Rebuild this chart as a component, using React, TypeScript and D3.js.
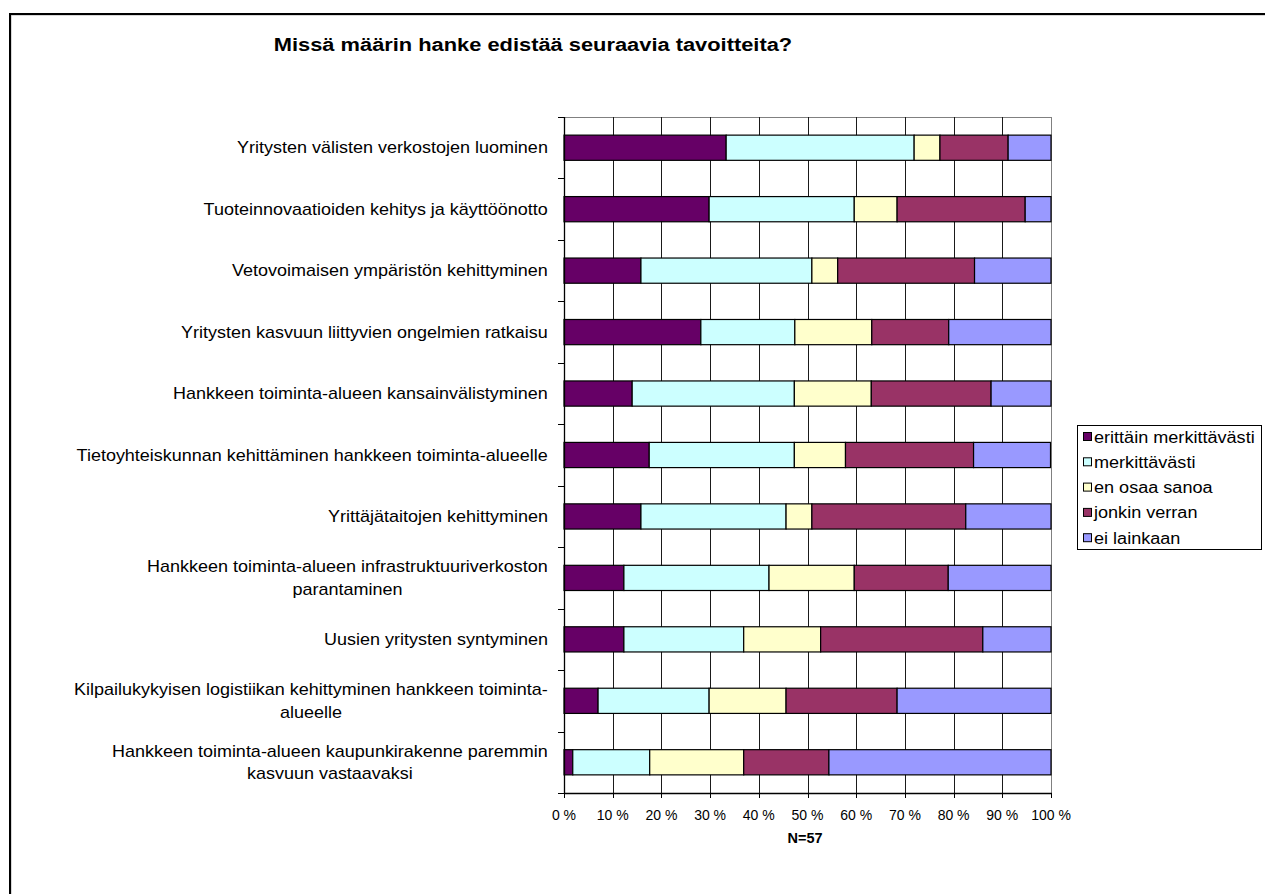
import React, { useRef, useEffect } from 'react';
import * as d3 from 'd3';

const title = 'Missä määrin hanke edistää seuraavia tavoitteita?';
const footnote = 'N=57';

const categories = [
  'Yritysten välisten verkostojen luominen',
  'Tuoteinnovaatioiden kehitys ja käyttöönotto',
  'Vetovoimaisen ympäristön kehittyminen',
  'Yritysten kasvuun liittyvien ongelmien ratkaisu',
  'Hankkeen toiminta-alueen kansainvälistyminen',
  'Tietoyhteiskunnan kehittäminen hankkeen toiminta-alueelle',
  'Yrittäjätaitojen kehittyminen',
  'Hankkeen toiminta-alueen infrastruktuuriverkoston\nparantaminen',
  'Uusien yritysten syntyminen',
  'Kilpailukykyisen logistiikan kehittyminen hankkeen toiminta-\nalueelle',
  'Hankkeen toiminta-alueen kaupunkirakenne paremmin\nkasvuun vastaavaksi',
];

const seriesNames = ['erittäin merkittävästi', 'merkittävästi', 'en osaa sanoa', 'jonkin verran', 'ei lainkaan'];

const erittainMerkittavasti = [33.3, 29.8, 15.8, 28.1, 14.0, 17.5, 15.8, 12.3, 12.3, 7.0, 1.8];
const merkittavasti = [38.6, 29.8, 35.1, 19.3, 33.3, 29.8, 29.8, 29.8, 24.6, 22.8, 15.8];
const enOsaaSanoa = [5.3, 8.8, 5.3, 15.8, 15.8, 10.5, 5.3, 17.5, 15.8, 15.8, 19.3];
const jonkinVerran = [14.0, 26.3, 28.1, 15.8, 24.6, 26.3, 31.6, 19.3, 33.3, 22.8, 17.5];
const eiLainkaan = [8.8, 5.3, 15.8, 21.1, 12.3, 15.8, 17.5, 21.1, 14.0, 31.6, 45.6];

const xTicks = [0, 10, 20, 30, 40, 50, 60, 70, 80, 90, 100];
const colors = ['#660066', '#CCFFFF', '#FFFFCC', '#993366', '#9999FF'];

const FONT = '"Liberation Sans", Arial, sans-serif';
const SX = 1.125; // horizontal stretch of the reference's text rendering

export default function App() {
  const ref = useRef<SVGSVGElement>(null);

  useEffect(() => {
    const svg = d3.select(ref.current);
    svg.selectAll('*').remove();

    const seriesValues = [erittainMerkittavasti, merkittavasti, enOsaaSanoa, jonkinVerran, eiLainkaan];
    const table = categories.map((c, i) => {
      const row: any = { cat: c };
      seriesNames.forEach((s, j) => (row[s] = seriesValues[j][i]));
      return row;
    });
    const stacked = d3.stack<any>().keys(seriesNames)(table);

    const x = d3.scaleLinear().domain([0, 100]).range([564, 1051]);
    const y = d3.scaleBand<string>().domain(categories).range([117, 793]).paddingInner(0.59).paddingOuter(0.295);
    const step = y.step();

    // outer frame
    svg.append('rect').attr('x', 0).attr('y', 0).attr('width', 1265).attr('height', 894).attr('fill', '#fff');
    svg.append('rect').attr('x', 11).attr('y', 15).attr('width', 1400).attr('height', 1000)
      .attr('fill', 'none').attr('stroke', '#b0b0b0').attr('stroke-width', 1);
    svg.append('rect').attr('x', 10).attr('y', 14).attr('width', 1400).attr('height', 1000)
      .attr('fill', 'none').attr('stroke', '#000').attr('stroke-width', 2);

    // title
    svg.append('text').attr('transform', `translate(533,51) scale(1.15,1)`).attr('text-anchor', 'middle')
      .attr('font-family', FONT).attr('font-weight', 'bold').attr('font-size', 19).text(title);

    // plot area border (gray top & right)
    svg.append('line').attr('x1', x(0)).attr('x2', x(100)).attr('y1', 117.5).attr('y2', 117.5)
      .attr('stroke', '#808080').attr('stroke-width', 1);
    svg.append('line').attr('x1', x(100) + 0.5).attr('x2', x(100) + 0.5).attr('y1', 117).attr('y2', 793)
      .attr('stroke', '#808080').attr('stroke-width', 1);

    // vertical gridlines
    svg.append('g').selectAll('line').data(xTicks.filter(t => t > 0 && t < 100)).join('line')
      .attr('x1', d => Math.round(x(d)) + 0.5).attr('x2', d => Math.round(x(d)) + 0.5)
      .attr('y1', 117).attr('y2', 793).attr('stroke', '#1a1a1a').attr('stroke-width', 1);

    // bars
    svg.append('g').selectAll('g').data(stacked).join('g')
      .attr('fill', (_, i) => colors[i])
      .selectAll('rect').data(d => d.map(v => ({ v, cat: (v.data as any).cat }))).join('rect')
      .attr('x', d => x(d.v[0]))
      .attr('width', d => Math.max(0, x(Math.min(100, d.v[1])) - x(d.v[0])))
      .attr('y', d => y(d.cat)!)
      .attr('height', y.bandwidth())
      .attr('stroke', '#000').attr('stroke-width', 1.2);

    // left axis
    svg.append('line').attr('x1', 564.5).attr('x2', 564.5).attr('y1', 117).attr('y2', 794)
      .attr('stroke', '#000').attr('stroke-width', 1.3);
    const bounds = d3.range(categories.length + 1).map(i => 117 + i * step);
    svg.append('g').selectAll('line').data(bounds).join('line')
      .attr('x1', 558).attr('x2', 564).attr('y1', d => Math.round(d) + 0.5).attr('y2', d => Math.round(d) + 0.5)
      .attr('stroke', '#000');

    // bottom axis
    svg.append('line').attr('x1', 564).attr('x2', x(100) + 1).attr('y1', 793.5).attr('y2', 793.5)
      .attr('stroke', '#000').attr('stroke-width', 1.3);
    const bx = svg.append('g');
    bx.selectAll('line').data(xTicks).join('line')
      .attr('x1', d => Math.round(x(d)) + 0.5).attr('x2', d => Math.round(x(d)) + 0.5)
      .attr('y1', 793).attr('y2', 798).attr('stroke', '#000');
    bx.selectAll('text').data(xTicks).join('text')
      .attr('x', d => x(d)).attr('y', 820).attr('text-anchor', 'middle')
      .attr('font-family', FONT).attr('font-size', 14).text(d => `${d} %`);

    // category labels
    const lg = svg.append('g').attr('font-family', FONT).attr('font-size', 16);
    categories.forEach(c => {
      const lines = c.split('\n');
      const cy = y(c)! + y.bandwidth() / 2;
      const t = lg.append('text').attr('text-anchor', 'middle');
      const spans = lines.map((ln, i) =>
        t.append('tspan').attr('x', 0).attr('y', 5.5 + (i - (lines.length - 1) / 2) * 22.5).text(ln)
      );
      let maxW = 0;
      spans.forEach(s => {
        const w = (s.node() as SVGTSpanElement).getComputedTextLength();
        if (w > maxW) maxW = w;
      });
      t.attr('transform', `translate(${548 - (maxW * SX) / 2},${cy}) scale(${SX},1)`);
    });

    // footnote
    svg.append('text').attr('x', 805).attr('y', 843).attr('text-anchor', 'middle')
      .attr('font-family', FONT).attr('font-weight', 'bold').attr('font-size', 14.5).text(footnote);

    // legend
    const leg = svg.append('g');
    leg.append('rect').attr('x', 1077.5).attr('y', 425.5).attr('width', 184).attr('height', 124)
      .attr('fill', '#fff').attr('stroke', '#000');
    seriesNames.forEach((s, i) => {
      const cy = 437 + i * 25.3;
      leg.append('rect').attr('x', 1083.5).attr('y', cy - 4.5).attr('width', 8).attr('height', 8)
        .attr('fill', colors[i]).attr('stroke', '#000');
      leg.append('text').attr('transform', `translate(1094,${cy + 5.5}) scale(1.13,1)`)
        .attr('font-family', FONT).attr('font-size', 16).text(s);
    });
  }, []);

  return (
    <svg
      ref={ref}
      width={1265}
      height={894}
      style={{ position: 'absolute', left: 0, top: 0, background: '#fff' }}
    />
  );
}
